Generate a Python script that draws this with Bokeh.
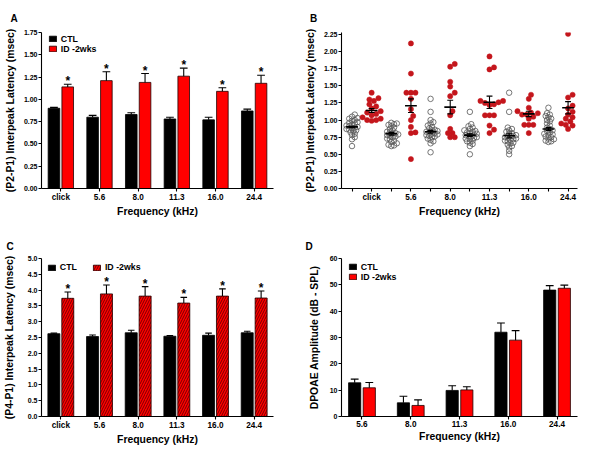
import numpy as np
from bokeh.plotting import figure
from bokeh.models import Range1d, FixedTicker, Legend, LegendItem, PrintfTickFormatter
from bokeh.layouts import gridplot
from bokeh.embed import file_html
from bokeh.resources import INLINE
from bokeh.core.properties import value

FONT = "Liberation Sans"
RED = "#ff0000"
DOT_RED = "#c4161c"

# ---------------- data ----------------
freq_labels = ["click", "5.6", "8.0", "11.3", "16.0", "24.4"]

# Panel A: (P2-P1) interpeak latency, mean and SEM
a_ctl = [0.90, 0.80, 0.83, 0.78, 0.77, 0.87]
a_ctl_err = [0.01, 0.02, 0.02, 0.02, 0.03, 0.02]
a_id = [1.14, 1.21, 1.19, 1.26, 1.09, 1.18]
a_id_err = [0.03, 0.10, 0.10, 0.09, 0.04, 0.09]

# Panel B: individual animals
b_ctl_click = [1.08, 1.05, 1.03, 1.02, 1.00, 0.99, 0.97, 0.96, 0.95, 0.93, 0.92, 0.91, 0.90,
               0.89, 0.88, 0.87, 0.86, 0.85, 0.84, 0.82, 0.80, 0.78, 0.75, 0.72, 0.62]
b_ctl_5_6 = [0.96, 0.95, 0.94, 0.93, 0.91, 0.89, 0.87, 0.85, 0.83, 0.82, 0.81, 0.80, 0.79,
             0.78, 0.77, 0.76, 0.75, 0.73, 0.72, 0.70, 0.68, 0.66, 0.64, 0.63, 0.62]
b_ctl_8_0 = [1.31, 1.12, 1.00, 0.97, 0.95, 0.92, 0.90, 0.88, 0.86, 0.85, 0.84, 0.83, 0.82,
             0.81, 0.80, 0.79, 0.78, 0.77, 0.76, 0.75, 0.73, 0.71, 0.69, 0.66, 0.53]
b_ctl_11_3 = [1.12, 0.94, 0.91, 0.89, 0.87, 0.85, 0.84, 0.83, 0.82, 0.81, 0.80, 0.79, 0.78,
              0.77, 0.76, 0.75, 0.74, 0.73, 0.72, 0.70, 0.69, 0.67, 0.65, 0.62, 0.50]
b_ctl_16_0 = [1.40, 1.12, 0.89, 0.87, 0.85, 0.83, 0.81, 0.80, 0.78, 0.77, 0.76, 0.75, 0.74,
              0.73, 0.72, 0.71, 0.70, 0.69, 0.67, 0.66, 0.64, 0.62, 0.60, 0.55, 0.50]
b_ctl_24_4 = [1.18, 1.10, 1.08, 1.06, 1.04, 1.02, 1.00, 0.98, 0.95, 0.92, 0.89, 0.87, 0.85,
              0.84, 0.82, 0.80, 0.79, 0.78, 0.76, 0.75, 0.73, 0.72, 0.70, 0.69, 0.68]
b_id_click = [1.40, 1.32, 1.30, 1.28, 1.23, 1.20, 1.17, 1.13, 1.11, 1.09, 1.07, 1.04, 1.02,
              1.00, 0.99, 1.00]
b_id_5_6 = [2.12, 1.68, 1.40, 1.40, 1.40, 1.31, 1.16, 1.06, 1.00, 0.90, 0.82, 0.81, 0.43]
b_id_8_0 = [1.82, 1.78, 1.56, 1.49, 1.40, 1.35, 1.13, 1.07, 0.87, 0.81, 0.81, 0.75, 0.75]
b_id_11_3 = [1.93, 1.77, 1.74, 1.28, 1.28, 1.26, 1.25, 1.23, 1.22, 1.07, 1.07, 1.07, 0.92,
             0.86, 0.81]
b_id_16_0 = [1.37, 1.31, 1.18, 1.13, 1.11, 1.10, 1.08, 1.08, 1.05, 1.02, 0.93, 0.93, 0.93, 0.81]
b_id_24_4 = [2.26, 1.37, 1.33, 1.21, 1.17, 1.12, 1.08, 1.04, 1.02, 0.98, 0.95, 0.93, 0.92, 0.87]
b_ctl = [b_ctl_click, b_ctl_5_6, b_ctl_8_0, b_ctl_11_3, b_ctl_16_0, b_ctl_24_4]
b_id = [b_id_click, b_id_5_6, b_id_8_0, b_id_11_3, b_id_16_0, b_id_24_4]

# Panel C: (P4-P1) interpeak latency
c_ctl = [2.62, 2.53, 2.65, 2.54, 2.57, 2.65]
c_ctl_err = [0.02, 0.05, 0.08, 0.02, 0.07, 0.05]
c_id = [3.74, 3.88, 3.81, 3.59, 3.81, 3.75]
c_id_err = [0.20, 0.28, 0.30, 0.18, 0.23, 0.22]

# Panel D: DPOAE amplitude
d_labels = ["5.6", "8.0", "11.3", "16.0", "24.4"]
d_ctl = [12.8, 5.2, 9.9, 32.0, 48.0]
d_ctl_err = [1.4, 2.5, 1.8, 3.5, 1.7]
d_id = [10.9, 4.2, 10.1, 29.0, 48.7]
d_id_err = [2.0, 2.1, 1.2, 3.6, 1.2]

W, H = 292, 224


def base_fig(xr, yr, borders, ylabel, yticks, yfmt, xticks, xlabels, al_standoff,
             letter, letter_dx, letter_standoff):
    bl, br, bt, bb = borders
    p = figure(width=W, height=H, x_range=Range1d(*xr), y_range=Range1d(*yr),
               output_backend="svg", toolbar_location=None, tools="",
               min_border_left=bl, min_border_right=br,
               min_border_top=bt, min_border_bottom=bb)
    p.title.text = letter
    p.title.align = "left"
    p.title.offset = letter_dx
    p.title.standoff = letter_standoff
    p.title.text_font = FONT
    p.title.text_font_style = "bold"
    p.title.text_font_size = "10px"
    p.title.text_color = "black"
    p.outline_line_color = None
    p.xgrid.visible = False
    p.ygrid.visible = False
    xa, ya = p.xaxis[0], p.yaxis[0]
    for ax in (xa, ya):
        ax.axis_line_color = "black"
        ax.axis_line_width = 1.1
        ax.major_tick_line_color = "black"
        ax.major_tick_line_width = 1.1
        ax.major_tick_out = 3
        ax.major_tick_in = 0
        ax.minor_tick_line_color = None
        ax.major_label_text_font = FONT
        ax.major_label_text_font_style = "bold"
        ax.major_label_text_color = "black"
        ax.axis_label_text_font = FONT
        ax.axis_label_text_font_style = "bold"
        ax.axis_label_text_font_size = "10.4px"
        ax.axis_label_text_color = "black"
    xa.ticker = FixedTicker(ticks=xticks)
    xa.major_label_overrides = {t: l for t, l in zip(xticks, xlabels)}
    xa.major_label_text_font_size = "8.2px"
    xa.major_label_standoff = 1
    xa.axis_label = "Frequency (kHz)"
    xa.axis_label_standoff = 1
    ya.ticker = FixedTicker(ticks=yticks)
    ya.formatter = PrintfTickFormatter(format=yfmt)
    ya.major_label_text_font_size = "7px"
    ya.major_label_standoff = 1
    ya.axis_label = ylabel
    ya.axis_label_standoff = al_standoff
    return p


def draw_bars(p, ctl, ctl_err, idv, id_err, off, bw, capw, hatch=False):
    n = len(ctl)
    xs = list(range(n))
    xc = [x - off for x in xs]
    xi = [x + off for x in xs]
    r1 = p.vbar(x=xc, top=ctl, bottom=0, width=bw, fill_color="black",
                line_color="black", line_width=0.8)
    kw = {}
    if hatch:
        kw = dict(hatch_pattern="/", hatch_color="#7a0000", hatch_scale=5.0, hatch_weight=1.0)
    r2 = p.vbar(x=xi, top=idv, bottom=0, width=bw, fill_color=RED,
                line_color="#200000", line_width=0.8, **kw)
    for xx, m, e in ((xc, ctl, ctl_err), (xi, idv, id_err)):
        up = [a + b for a, b in zip(m, e)]
        p.segment(x0=xx, y0=m, x1=xx, y1=up, line_color="black", line_width=1.1)
        p.segment(x0=[v - capw for v in xx], y0=up, x1=[v + capw for v in xx], y1=up,
                  line_color="black", line_width=1.1)
    return r1, r2, xi


def add_stars(p, xi, idv, id_err):
    up = [a + b for a, b in zip(idv, id_err)]
    p.text(x=xi, y=up, text=["*"] * len(up), text_align="center",
           text_baseline="alphabetic", y_offset=-3, text_font=value(FONT),
           text_font_style="bold", text_font_size="12px", text_color="black")


def add_legend(p, r1, r2, orientation, loc, spacing):
    leg = Legend(items=[LegendItem(label="CTL", renderers=[r1]),
                        LegendItem(label="ID -2wks", renderers=[r2])],
                 orientation=orientation, location=loc,
                 glyph_width=9, glyph_height=7, label_standoff=4,
                 label_text_font=FONT, label_text_font_style="bold",
                 label_text_font_size="8.8px", label_text_color="black",
                 label_height=7, label_width=10,
                 spacing=spacing, padding=0, margin=0,
                 background_fill_alpha=0, border_line_color=None)
    p.add_layout(leg)


# ---------------- Panel A ----------------
pA = base_fig((-0.5, 5.5), (0, 1.75), (34, 19, 31, 35),
              "(P2-P1) Interpeak Latency (msec)",
              [0, 0.25, 0.5, 0.75, 1.0, 1.25, 1.5, 1.75], "%.2f",
              list(range(6)), freq_labels, 5, "A", -31, 17)
rA1, rA2, xiA = draw_bars(pA, a_ctl, a_ctl_err, a_id, a_id_err, 0.178, 0.30, 0.10)
add_stars(pA, xiA, a_id, a_id_err)
add_legend(pA, rA1, rA2, "vertical", (6.8, 134.4), 0)

# ---------------- Panel B ----------------
pB = base_fig((-0.535, 11.48), (0, 2.28), (45, 7, 32, 36),
              "(P2-P1) Interpeak Latency (msec)",
              [0, 0.25, 0.5, 0.75, 1.0, 1.25, 1.5, 1.75, 2.0, 2.25], "%.2f",
              list(range(12)),
              [lab if i % 2 else "" for i, lab in
               enumerate(sum([["", f] for f in freq_labels], []))], 5, "B", -31.5, 18)

frame_w_B, frame_h_B = 240.0, 156.0
x_ppu = frame_w_B / (11.48 + 0.535)
y_ppu = frame_h_B / 2.28


def swarm(vals, dmin, step):
    vals = np.asarray(vals, dtype=float)
    order = np.argsort(vals)
    placed = []
    offs = np.zeros(len(vals))
    cands = [0.0]
    for j in range(1, 30):
        cands += [j * step, -j * step]
    for i in order:
        y = vals[i] * y_ppu
        chosen = cands[-1]
        for c in cands:
            if all((c - px) ** 2 + (y - py) ** 2 >= dmin ** 2 for px, py in placed):
                chosen = c
                break
        placed.append((chosen, y))
        offs[i] = chosen / x_ppu
    return offs


for g in range(6):
    col_c, col_i = 2 * g, 2 * g + 1
    oc = swarm(b_ctl[g], 2.8, 1.4)
    pB.scatter(x=[col_c + o for o in oc], y=b_ctl[g], size=5.5, marker="circle",
               fill_color=None, line_color="#555555", line_width=0.8)
    oi = swarm(b_id[g], 4.6, 2.3)
    pB.scatter(x=[col_i + o for o in oi], y=b_id[g], size=5.2, marker="circle",
               fill_color=DOT_RED, line_color=DOT_RED, line_width=0.5)

cols_c = [2 * g for g in range(6)]
cols_i = [2 * g + 1 for g in range(6)]
for cols, m, e in ((cols_c, a_ctl, a_ctl_err), (cols_i, a_id, a_id_err)):
    pB.segment(x0=[c - 0.30 for c in cols], x1=[c + 0.30 for c in cols], y0=m, y1=m,
               line_color="black", line_width=1.6)
    lo = [a - b for a, b in zip(m, e)]
    hi = [a + b for a, b in zip(m, e)]
    pB.segment(x0=cols, x1=cols, y0=lo, y1=hi, line_color="black", line_width=1.1)
    for yy in (lo, hi):
        pB.segment(x0=[c - 0.15 for c in cols], x1=[c + 0.15 for c in cols], y0=yy, y1=yy,
                   line_color="black", line_width=1.1)

# ---------------- Panel C ----------------
pC = base_fig((-0.5, 5.5), (0, 5.0), (39, 14, 34, 32),
              "(P4-P1) Interpeak Latency (msec)",
              [0, 0.5, 1.0, 1.5, 2.0, 2.5, 3.0, 3.5, 4.0, 4.5, 5.0], "%.1f",
              list(range(6)), freq_labels, 10, "C", -35, 14)
rC1, rC2, xiC = draw_bars(pC, c_ctl, c_ctl_err, c_id, c_id_err, 0.18, 0.31, 0.085, hatch=True)
add_stars(pC, xiC, c_id, c_id_err)
add_legend(pC, rC1, rC2, "horizontal", (5.8, 143.6), 15)

# ---------------- Panel D ----------------
pD = base_fig((-0.42, 4.42), (0, 60), (49, 7, 34, 32),
              "DPOAE Amplitude (dB - SPL)",
              [0, 10, 20, 30, 40, 50, 60], "%d",
              list(range(5)), d_labels, 7, "D", -36, 14)
rD1, rD2, xiD = draw_bars(pD, d_ctl, d_ctl_err, d_id, d_id_err, 0.15, 0.25, 0.08)
add_legend(pD, rD1, rD2, "vertical", (6.8, 134.4), 0)

grid = gridplot([[pA, pB], [pC, pD]], toolbar_location=None)
open("out.html", "w").write(file_html(grid, INLINE))
